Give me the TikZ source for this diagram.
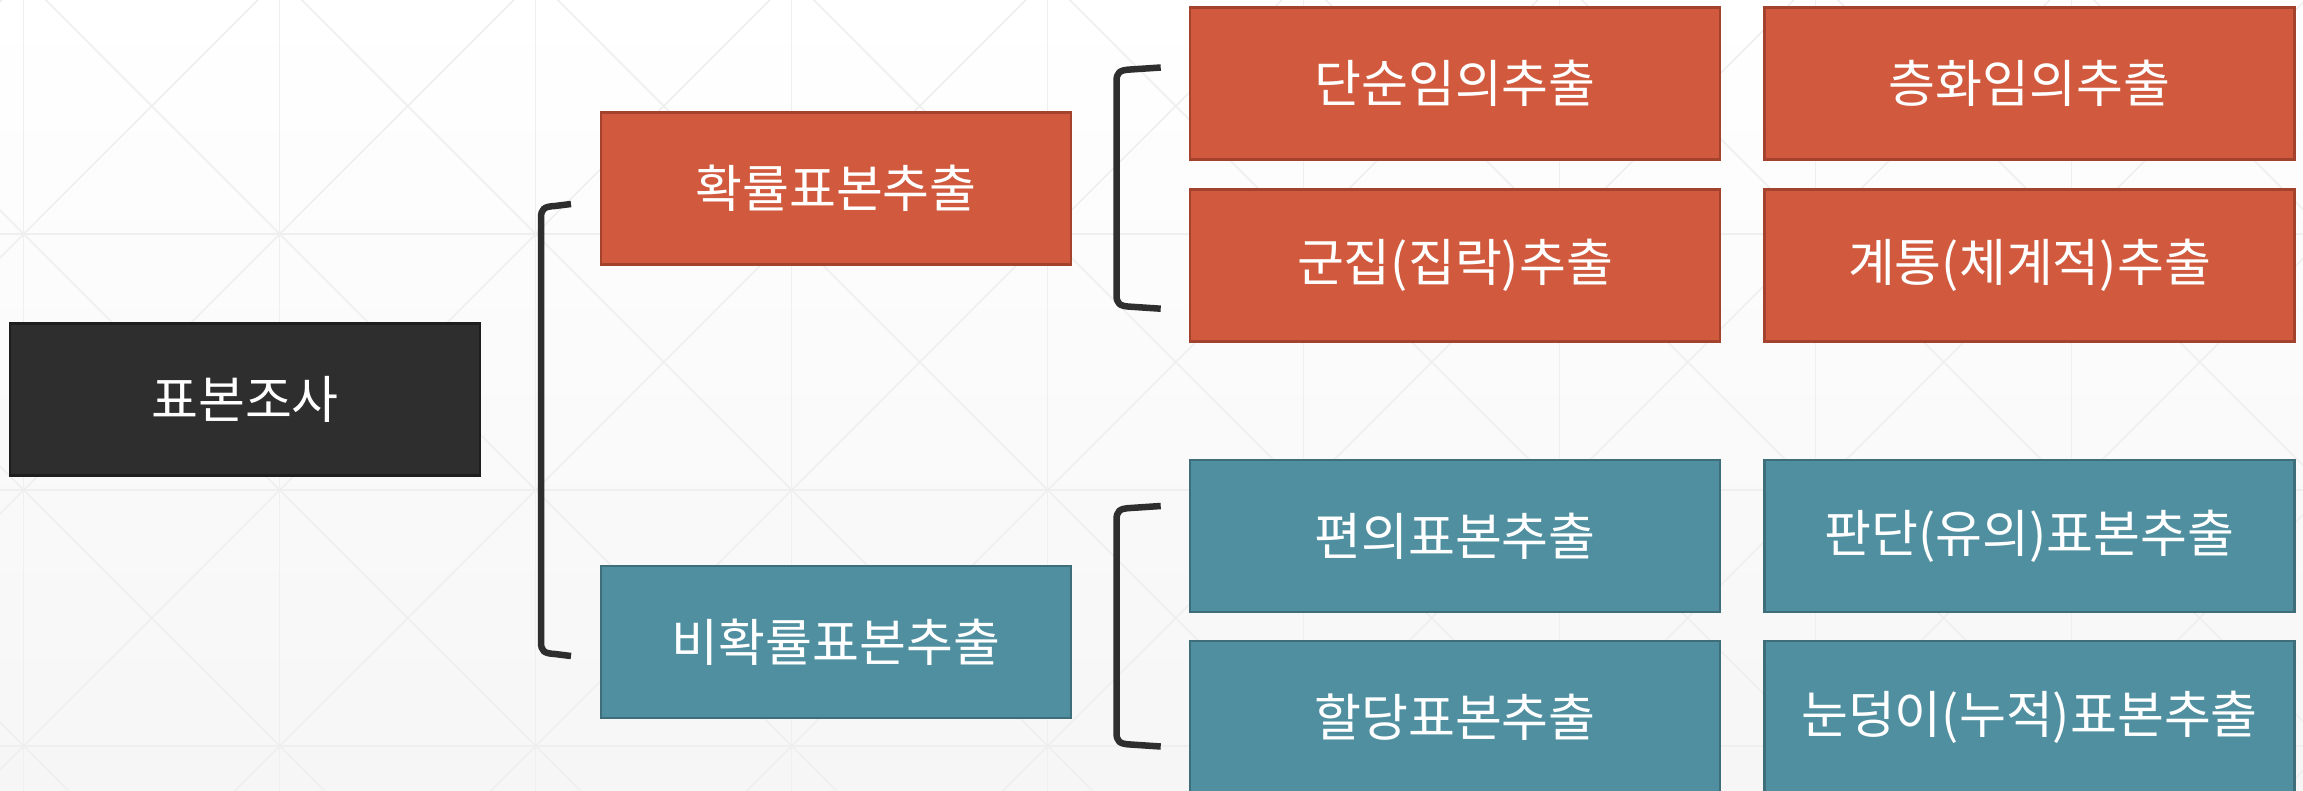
\documentclass[tikz,border=0pt]{standalone}
\usepackage{fontspec}
\setmainfont{Noto Sans CJK KR}
\usetikzlibrary{calc}
\definecolor{orfill}{HTML}{D15A3E}
\definecolor{ordraw}{HTML}{A4432D}
\definecolor{tlfill}{HTML}{4F8F9F}
\definecolor{tldraw}{HTML}{3D6E7A}
\definecolor{dkfill}{HTML}{2E2E2E}
\definecolor{dkdraw}{HTML}{1E1E1E}
\definecolor{gridc}{HTML}{EFEFEF}
\definecolor{brk}{HTML}{2E2E2E}
\definecolor{bgbot}{HTML}{F6F6F6}
\tikzset{
  gridline/.style={draw=gridc, line width=1.5pt},
  box/.style={rectangle, line width=2.5pt, text=white, inner sep=0pt,
    font=\fontsize{51}{60}\selectfont},
  wbox/.style={box, minimum width=530pt, minimum height=152pt},
  nbox/.style={box, minimum width=470pt, minimum height=152pt},
  orange/.style={fill=orfill, draw=ordraw},
  teal/.style={fill=tlfill, draw=tldraw},
  dark/.style={fill=dkfill, draw=dkdraw},
  bracket/.style={draw=brk, line width=6.5pt, line cap=butt, line join=round},
}
\newcommand\mybracket[4]{%
  \draw[bracket] (#1) -- ($(#2)+(14,2)$)
    .. controls ($(#2)+(3,2.5)$) and ($(#2)+(0,5)$) .. ($(#2)+(0,14)$)
    -- ($(#3)+(0,-14)$)
    .. controls ($(#3)+(0,-5)$) and ($(#3)+(3,-2.5)$) .. ($(#3)+(14,-2)$)
    -- (#4);}
\begin{document}
\begin{tikzpicture}[x=1pt,y=-1pt]
\useasboundingbox (0,0) rectangle (2303,790);
\clip (0,0) rectangle (2303,790);
\shade[top color=white, bottom color=bgbot] (0,0) rectangle (2303,790);
% background grid
\foreach \k in {0,...,8} \draw[gridline] ({23.7+256*\k},-10) -- ({23.7+256*\k},800);
\foreach \yy in {234,490,746} \draw[gridline] (-10,\yy) -- (2313,\yy);
\foreach \k in {-4,...,10} {\pgfmathsetmacro\cc{-210.3+256*\k}
  \draw[gridline] (\cc-20,-20) -- (\cc+820,820);}
\foreach \k in {-2,...,12} {\pgfmathsetmacro\cc{257.7+256*\k}
  \draw[gridline] (\cc+20,-20) -- (\cc-820,820);}
% nodes
\node[nbox, dark] (survey) at (245,399.5) {표본조사};
\node[nbox, orange] (prob) at (836,188.5) {확률표본추출};
\node[nbox, teal] (nonprob) at (836,642) {비확률표본추출};
\node[wbox, orange] (srs) at (1455,83.3) {단순임의추출};
\node[wbox, orange] (strat) at (2029.5,83.3) {층화임의추출};
\node[wbox, orange] (clust) at (1455,265.3) {군집(집락)추출};
\node[wbox, orange] (syst) at (2029.5,265.3) {계통(체계적)추출};
\node[wbox, teal] (conv) at (1455,536) {편의표본추출};
\node[wbox, teal] (judg) at (2029.5,536) {판단(유의)표본추출};
\node[wbox, teal] (quota) at (1455,717) {할당표본추출};
\node[wbox, teal] (snow) at (2029.5,717) {눈덩이(누적)표본추출};
% brackets
\coordinate (b0t) at (571,204);  \coordinate (b0c1) at (541,204);
\coordinate (b0c2) at (541,656); \coordinate (b0b) at (571,656);
\coordinate (b1t) at (1160.7,67.5);  \coordinate (b1c1) at (1116.5,67.5);
\coordinate (b1c2) at (1116.5,308.7); \coordinate (b1b) at (1160.7,308.7);
\coordinate (b2t) at (1160.7,506);  \coordinate (b2c1) at (1116.5,506);
\coordinate (b2c2) at (1116.5,746.5); \coordinate (b2b) at (1160.7,746.5);
\mybracket{b0t}{b0c1}{b0c2}{b0b}
\mybracket{b1t}{b1c1}{b1c2}{b1b}
\mybracket{b2t}{b2c1}{b2c2}{b2b}
\end{tikzpicture}
\end{document}
